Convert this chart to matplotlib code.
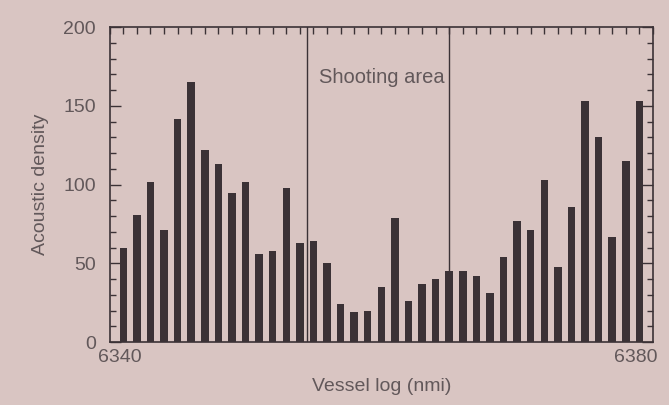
import numpy as np
import matplotlib
matplotlib.use('Agg')
import matplotlib.pyplot as plt
from matplotlib.ticker import MultipleLocator

# bar values, one per nautical mile from 6341 to 6379
positions = list(range(1, 40))
density = [60, 81, 102, 71, 142, 165, 122, 113, 95, 102, 56, 58, 98, 63, 64,
           50, 24, 19, 20, 35, 79, 26, 37, 40, 45, 45, 42, 31, 54, 77, 71, 103,
           48, 86, 153, 130, 67, 115, 153]
shooting_bounds = [14.5, 25]
x_start, x_end = 6340, 6380
y_ticks = [0, 50, 100, 150, 200]

plt.rcParams['font.family'] = ['Liberation Sans', 'DejaVu Sans']

bg = '#d9c5c2'
ink = '#3b3236'
text_col = '#62585a'

fig = plt.figure(figsize=(6.69, 4.05), dpi=100, facecolor=bg)
ax = fig.add_axes([0.164, 0.155, 0.812, 0.778], facecolor=bg)

ax.bar(positions, density, width=0.55, color=ink)

# shooting area boundaries
for xb in shooting_bounds:
    ax.axvline(xb, color=ink, lw=1.0)
ax.text(20, 168, 'Shooting area', ha='center', va='center',
        fontsize=14.5, color=text_col)

ax.set_xlim(0, x_end - x_start)
ax.set_ylim(0, 200)

ax.set_yticks(y_ticks)
ax.yaxis.set_minor_locator(MultipleLocator(10))
ax.tick_params(axis='y', which='both', direction='in', right=True, colors=ink,
               labelcolor=text_col, labelsize=14, pad=10)
ax.tick_params(axis='y', which='major', length=8, width=1)
ax.tick_params(axis='y', which='minor', length=4, width=1)

ax.set_xticks([])
ax.xaxis.set_minor_locator(MultipleLocator(1))
ax.tick_params(axis='x', which='minor', direction='in', top=True, bottom=False,
               length=5, width=1, colors=ink)

# end labels of the vessel log
ax.text(-0.85, -0.02, str(x_start), transform=ax.get_xaxis_transform(),
        ha='left', va='top', fontsize=14, color=text_col)
ax.text(x_end - x_start + 0.3, -0.02, str(x_end), transform=ax.get_xaxis_transform(),
        ha='right', va='top', fontsize=14, color=text_col)

for sp in ax.spines.values():
    sp.set_color(ink)
    sp.set_linewidth(1.2)

ax.set_ylabel('Acoustic density', fontsize=14, color=text_col, labelpad=10)
ax.set_xlabel('Vessel log (nmi)', fontsize=14, color=text_col, labelpad=22)

fig.savefig('out.png', dpi=100, facecolor=bg)
